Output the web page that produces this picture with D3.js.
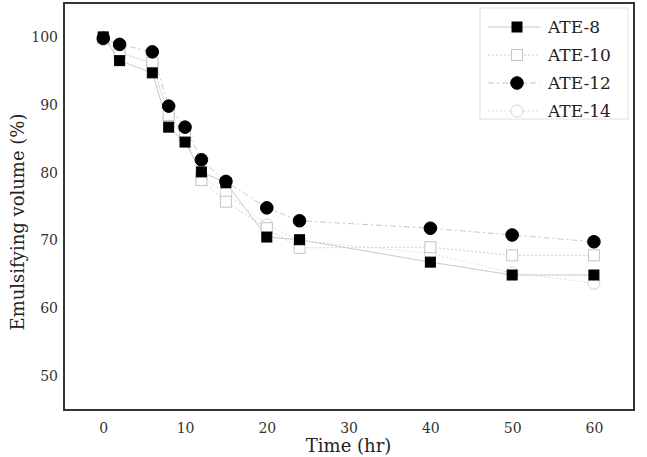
<!DOCTYPE html>
<html>
<head>
<meta charset="utf-8">
<script src="https://cdn.jsdelivr.net/npm/d3@7"></script>
<style>
  body { margin: 0; background: #fff; }
  svg { display: block; font-family: "DejaVu Serif", "Liberation Serif", serif; }
</style>
</head>
<body>
<div id="chart"></div>
<script>
// time points (hr)
const times = [0, 2, 6, 8, 10, 12, 15, 20, 24, 40, 50, 60];
// emulsifying volume (%) per surfactant
const ate8  = [100, 96.5, 94.7, 86.7, 84.5, 80.1, 78.5, 70.5, 70.1, 66.8, 64.9, 64.9];
const ate10 = [99.8, 97.6, 96.2, 88.5, 85.5, 78.9, 75.7, 71.8, 68.9, 69.0, 67.8, 67.8];
const ate12 = [99.8, 98.9, 97.8, 89.8, 86.7, 81.9, 78.7, 74.8, 72.9, 71.8, 70.8, 69.8];
const ate14 = [99.6, 97.9, 96.0, 88.0, 85.0, 79.6, 77.0, 72.3, 70.0, 68.1, 65.2, 63.7];
const xTicks = [0, 10, 20, 30, 40, 50, 60];
const yTicks = [50, 60, 70, 80, 90, 100];

const seriesNames = ["ATE-8", "ATE-10", "ATE-12", "ATE-14"];
const seriesValues = [ate8, ate10, ate12, ate14];

const W = 647, H = 457;
const margin = { top: 3, right: 13, bottom: 47, left: 64 };
const width = W - margin.left - margin.right,
      height = H - margin.top - margin.bottom;

const svg = d3.select("#chart").append("svg")
    .attr("width", W)
    .attr("height", H);

const g = svg.append("g")
    .attr("transform", `translate(${margin.left},${margin.top})`);

const x = d3.scaleLinear().domain([-4.8, 64.9]).range([0, width]);
const y = d3.scaleLinear().domain([45, 105]).range([height, 0]);

// styles per series
const styles = {
  "ATE-8":  { dash: null,        stroke: "#c8c8c8", shape: "square", fill: "#000", mstroke: "#000" },
  "ATE-10": { dash: "2,2",       stroke: "#d0d0d0", shape: "square", fill: "#fff", mstroke: "#c4c4c4" },
  "ATE-12": { dash: "6,3,2,3",   stroke: "#c8c8c8", shape: "circle", fill: "#000", mstroke: "#000" },
  "ATE-14": { dash: "2,2",       stroke: "#dedede", shape: "circle", fill: "#fff", mstroke: "#d4d4d4" }
};

const data = seriesNames.map((name, i) => ({
  name: name,
  points: times.map((t, j) => ({ t: t, v: seriesValues[i][j] }))
}));

// x axis labels
g.append("g")
    .attr("transform", `translate(0,${height})`)
    .call(d3.axisBottom(x).tickValues(xTicks).tickSize(0).tickPadding(13))
    .call(a => a.select(".domain").remove())
    .selectAll("text")
    .style("font-size", "14px")
    .style("font-family", "DejaVu Serif")
    .attr("fill", "#333");

// y axis labels
g.append("g")
    .call(d3.axisLeft(y).tickValues(yTicks).tickSize(0).tickPadding(6))
    .call(a => a.select(".domain").remove())
    .selectAll("text")
    .style("font-size", "14px")
    .style("font-family", "DejaVu Serif")
    .attr("fill", "#333");

const line = d3.line().x(d => x(d.t)).y(d => y(d.v));

// lines
g.selectAll(".series-line")
    .data(data)
  .enter().append("path")
    .attr("class", "series-line")
    .attr("d", d => line(d.points))
    .attr("fill", "none")
    .attr("stroke", d => styles[d.name].stroke)
    .attr("stroke-width", 1)
    .attr("stroke-dasharray", d => styles[d.name].dash);

function drawMarker(sel, st, cx, cy) {
  if (st.shape === "square") {
    const s = st.fill === "#000" ? 10 : 11;
    sel.append("rect")
      .attr("x", cx - s / 2).attr("y", cy - s / 2)
      .attr("width", s).attr("height", s)
      .attr("fill", st.fill)
      .attr("stroke", st.mstroke)
      .attr("stroke-width", 1);
  } else {
    sel.append("circle")
      .attr("cx", cx).attr("cy", cy)
      .attr("r", st.fill === "#000" ? 6.3 : 6)
      .attr("fill", st.fill)
      .attr("stroke", st.mstroke)
      .attr("stroke-width", 1);
  }
}

// markers, drawn so that ATE-12 ends on top
["ATE-14", "ATE-10", "ATE-8", "ATE-12"].forEach(name => {
  const s = data.find(d => d.name === name);
  const grp = g.append("g").attr("class", "markers");
  s.points.forEach(p => drawMarker(grp, styles[name], x(p.t), y(p.v)));
});

// plot frame
g.append("rect")
    .attr("x", 0).attr("y", 0)
    .attr("width", width).attr("height", height)
    .attr("fill", "none")
    .attr("stroke", "#333")
    .attr("stroke-width", 2);

// legend
const legend = g.append("g").attr("transform", `translate(${480 - margin.left},${8 - margin.top})`);
legend.append("rect")
    .attr("width", 148).attr("height", 111)
    .attr("fill", "#fff")
    .attr("stroke", "#e0e0e0")
    .attr("stroke-width", 1);

seriesNames.forEach((name, i) => {
  const st = styles[name];
  const ly = 19 + i * 28;
  const row = legend.append("g");
  row.append("line")
      .attr("x1", 8).attr("x2", 60)
      .attr("y1", ly).attr("y2", ly)
      .attr("stroke", st.stroke)
      .attr("stroke-dasharray", st.dash);
  drawMarker(row, st, 37, ly);
  row.append("text")
      .attr("x", 68).attr("y", ly + 6)
      .style("font-size", "17px")
      .attr("fill", "#222")
      .text(name);
});

// axis titles
svg.append("text")
    .attr("x", margin.left + x(30))
    .attr("y", 452)
    .attr("text-anchor", "middle")
    .style("font-size", "18px")
    .attr("fill", "#222")
    .text("Time (hr)");

svg.append("text")
    .attr("transform", "rotate(-90)")
    .attr("x", -222)
    .attr("y", 24)
    .attr("text-anchor", "middle")
    .style("font-size", "18px")
    .attr("fill", "#222")
    .text("Emulsifying volume (%)");
</script>
</body>
</html>
